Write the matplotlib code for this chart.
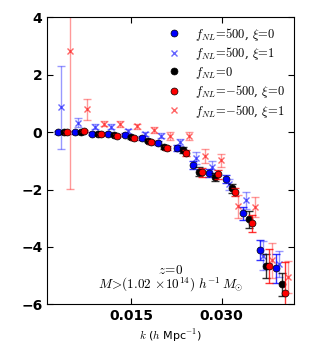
import matplotlib
matplotlib.use("Agg")
import numpy as np
import matplotlib.pyplot as plt

k_bins = [0.00273, 0.00560, 0.00848, 0.01114, 0.01391, 0.01669, 0.01945,
          0.02251, 0.02517, 0.02792, 0.03070, 0.03347, 0.03635, 0.03901]
k_shift = [0.0, 0.0005, 0.001, 0.0015, 0.002]

blue_y = [0.0, 0.0, -0.05, -0.06, -0.09, -0.21, -0.39, -0.55, -1.15, -1.42, -1.64, -2.83, -4.11, -4.75]
blue_err = [0.05, 0.05, 0.05, 0.05, 0.05, 0.06, 0.07, 0.1, 0.15, 0.13, 0.14, 0.22, 0.35, 0.5]

bluex_y = [0.86, 0.33, 0.19, 0.19, 0.03, -0.07, -0.12, -0.35, -0.9, -1.21, -1.82, -2.37, -4.3, -4.6]
bluex_err = [1.43, 0.16, 0.08, 0.08, 0.08, 0.08, 0.1, 0.12, 0.2, 0.2, 0.2, 0.3, 0.5, 0.45]

black_y = [0.0, 0.0, -0.05, -0.10, -0.18, -0.30, -0.52, -0.63, -1.38, -1.56, -1.96, -3.04, -4.67, -5.30]
black_err = [0.05, 0.05, 0.05, 0.05, 0.05, 0.06, 0.08, 0.1, 0.15, 0.15, 0.15, 0.29, 0.43, 0.4]

red_y = [0.0, 0.04, -0.08, -0.12, -0.21, -0.35, -0.55, -0.73, -1.40, -1.47, -2.08, -3.18, -4.66, -5.62]
red_err = [0.05, 0.05, 0.05, 0.05, 0.05, 0.06, 0.08, 0.1, 0.15, 0.15, 0.15, 0.3, 0.6, 1.1]

redx_y = [2.83, 0.79, 0.30, 0.28, 0.20, 0.08, -0.14, -0.14, -0.82, -0.98, -2.59, -2.61, -4.47, -5.05]
redx_err = [4.8, 0.36, 0.1, 0.1, 0.1, 0.1, 0.15, 0.15, 0.25, 0.23, 0.4, 0.35, 0.6, 0.56]

labels = [r"$f_{NL}\!=\!500$, $\xi\!=\!0$", r"$f_{NL}\!=\!500$, $\xi\!=\!1$", r"$f_{NL}\!=\!0$",
          r"$f_{NL}\!=\!{-}500$, $\xi\!=\!0$", r"$f_{NL}\!=\!{-}500$, $\xi\!=\!1$"]

plt.rcParams['mathtext.fontset'] = 'cm'
plt.rcParams['font.family'] = 'serif'
plt.rcParams['font.serif'] = ['DejaVu Serif']
plt.rcParams['xtick.direction'] = 'in'
plt.rcParams['ytick.direction'] = 'in'
plt.rcParams['xtick.top'] = True
plt.rcParams['ytick.right'] = True

fig = plt.figure(figsize=(3.11, 3.48), dpi=100)
ax = fig.add_axes([0.152, 0.1256, 0.793, 0.8244])

series = [
    (blue_y, blue_err, 'blue', 'o', 1.0),
    (bluex_y, bluex_err, 'blue', 'x', 0.5),
    (black_y, black_err, 'black', 'o', 1.0),
    (red_y, red_err, 'red', 'o', 1.0),
    (redx_y, redx_err, 'red', 'x', 0.5),
]

k = np.array(k_bins)
for (y, err, c, m, a), dk, lab in zip(series, k_shift, labels):
    ax.errorbar(k + dk, y, yerr=err, fmt='none', ecolor=c, alpha=a * 0.8,
                elinewidth=1.0, capsize=3, capthick=1.0)
    if m == 'o':
        ax.plot(k + dk, y, 'o', color=c, mec='black', mew=0.5, ms=5, label=lab)
    else:
        ax.plot(k + dk, y, 'x', color=c, alpha=0.6, ms=5, mew=1.0, label=lab)

ax.set_xlim(0.001, 0.042)
ax.set_ylim(-6, 4)
ax.set_xticks([0.015, 0.030])
ax.set_xticklabels(['0.015', '0.030'])
ax.set_yticks([-6, -4, -2, 0, 2, 4])
ax.tick_params(labelsize=10, length=4)
for t in ax.get_xticklabels() + ax.get_yticklabels():
    t.set_fontweight('bold')
    t.set_family('DejaVu Sans')

ax.set_xlabel(r"$k$ ($h$ Mpc$^{-1}$)", fontsize=8, labelpad=3, family='DejaVu Sans')

ax.text(0.5, 0.117, r"$z\!=\!0$", transform=ax.transAxes, ha='center', va='center', fontsize=9.5)
ax.text(0.5, 0.067, r"$M\!>\!(1.02\,\times\!10^{14})\ h^{-1}\,M_{\odot}$", transform=ax.transAxes,
        ha='center', va='center', fontsize=9.5)

ax.legend(loc='upper right', frameon=False, fontsize=9, numpoints=1, handlelength=1.6,
          handletextpad=0.9, labelspacing=0.2, borderaxespad=0.25)

fig.savefig('out.png', dpi=100)
